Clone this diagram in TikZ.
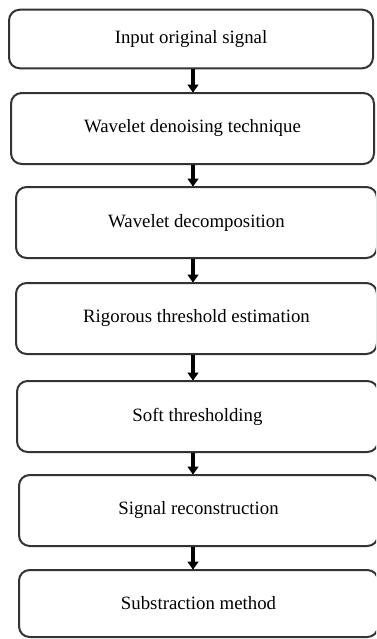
\documentclass[tikz,border=0pt]{standalone}
\usepackage{fontspec}
\setmainfont{Liberation Serif}
\usetikzlibrary{arrows.meta}
\tikzset{every picture/.style={line width=0.75pt}}
\tikzset{
  stepbox/.style={draw={rgb, 255:red, 51; green, 51; blue, 51}, line width=1.5pt, rounded corners=8pt, inner sep=0pt, minimum width=270.75pt, minimum height=53.25pt, font=\fontsize{14.1}{17}\selectfont},
  flowarrow/.style={draw=black, line width=3pt, -{Triangle[width=8pt,length=6pt]}, shorten >=-0.5pt}
}

\begin{document}
\begin{tikzpicture}[x=0.75pt,y=0.75pt,yscale=-1,xscale=1]
\clip (0,0) rectangle (376,639);
\fill[white] (0,0) rectangle (376,639);

%Shape: Rounded Rect [id:b1]
\node [stepbox, minimum width=273pt, minimum height=43.9pt] (b1) at (191,39) {Input original signal};
%Shape: Rounded Rect [id:b2]
\node [stepbox, minimum width=272.25pt] (b2) at (192.5,128.5) {Wavelet denoising technique};
%Shape: Rounded Rect [id:b3]
\node [stepbox] (b3) at (196.5,222.5) {Wavelet decomposition};
%Shape: Rounded Rect [id:b4]
\node [stepbox] (b4) at (196.5,318.5) {Rigorous threshold estimation};
%Shape: Rounded Rect [id:b5]
\node [stepbox] (b5) at (197.5,416.5) {Soft thresholding};
%Shape: Rounded Rect [id:b6]
\node [stepbox, minimum width=269.25pt] (b6) at (198.5,510.5) {Signal reconstruction};
%Shape: Rounded Rect [id:b7]
\node [stepbox, minimum width=269.25pt, minimum height=50.25pt] (b7) at (198.5,603.5) {Substraction method};

%Straight Lines [arrows]
\draw [flowarrow] (193,0 |- b1.south) -- (193,0 |- b2.north);
\draw [flowarrow] (193,0 |- b2.south) -- (193,0 |- b3.north);
\draw [flowarrow] (193,0 |- b3.south) -- (193,0 |- b4.north);
\draw [flowarrow] (193,0 |- b4.south) -- (193,0 |- b5.north);
\draw [flowarrow] (193,0 |- b5.south) -- (193,0 |- b6.north);
\draw [flowarrow] (193,0 |- b6.south) -- (193,0 |- b7.north);

\end{tikzpicture}
\end{document}
